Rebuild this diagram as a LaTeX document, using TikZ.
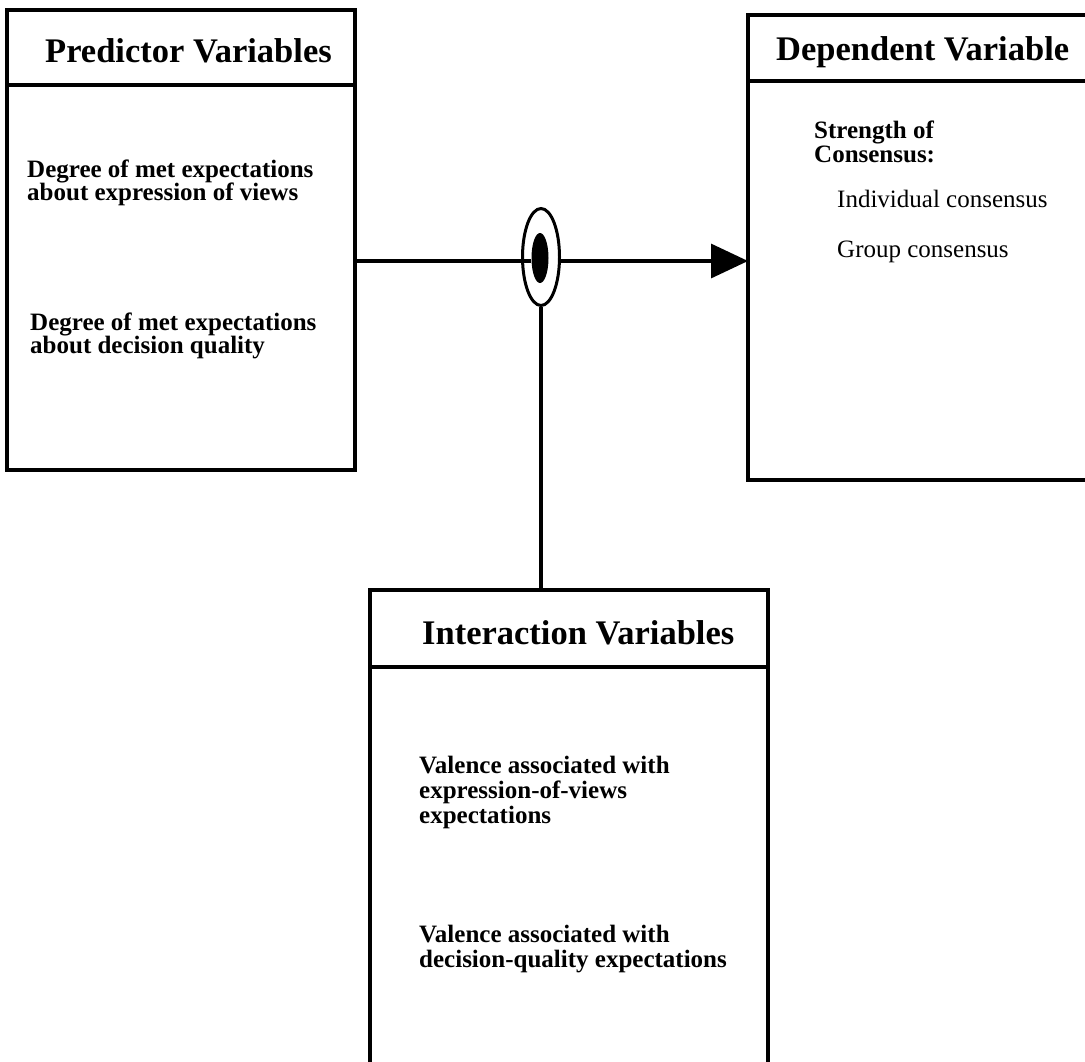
\documentclass[tikz,border=0pt]{standalone}
\usepackage{fontspec}
\setmainfont{Liberation Serif}
\usetikzlibrary{arrows.meta,shapes.geometric}
\begin{document}
\begin{tikzpicture}[x=1pt,y=-1pt,
  frame/.style={line width=3.3pt, line join=miter},
  link/.style={line width=3.3pt},
  boxtitle/.style={anchor=base west, inner sep=0pt, font=\fontsize{34.5}{36}\selectfont\bfseries},
  item/.style={anchor=base west, inner sep=0pt, font=\fontsize{25}{25}\selectfont\bfseries},
  plainitem/.style={anchor=base west, inner sep=0pt, font=\fontsize{25}{25}\selectfont}]
\useasboundingbox (0,0) rectangle (1085,1061);

% ---- Predictor Variables box
\draw[frame] (7,10) rectangle (355,470);
\draw[frame] (7,85) -- (355,85);
\node[boxtitle] (predT) at (45,62) {Predictor Variables};
\node[item] (p1a) at (27,177) {Degree of met expectations};
\node[item] (p1b) at (27,200) {about expression of views};
\node[item] (p2a) at (30,330) {Degree of met expectations};
\node[item] (p2b) at (30,353) {about decision quality};

% ---- Dependent Variable box (open on the right)
\draw[frame] (1086,15) -- (748,15) -- (748,480) -- (1086,480);
\draw[frame] (748,81) -- (1086,81);
\node[boxtitle] (depT) at (776,60) {Dependent Variable};
\node[item] (d1) at (814,138) {Strength of};
\node[item] (d2) at (814,162) {Consensus:};
\node[plainitem] (d3) at (837,207) {Individual consensus};
\node[plainitem] (d4) at (837,257) {Group consensus};

% ---- Interaction Variables box (open at the bottom)
\draw[frame] (370,1062) -- (370,590) -- (768,590) -- (768,1062);
\draw[frame] (370,667) -- (768,667);
\node[boxtitle] (intT) at (422,644) {Interaction Variables};
\node[item] (i1a) at (419,773) {Valence associated with};
\node[item] (i1b) at (419,798) {expression-of-views};
\node[item] (i1c) at (419,823) {expectations};
\node[item] (i2a) at (419,942) {Valence associated with};
\node[item] (i2b) at (419,967) {decision-quality expectations};

% ---- connection points on the boxes
\coordinate (pred-out) at (355,261);
\coordinate (dep-in) at (748,261);
\coordinate (int-top) at (541,590);

% ---- moderator symbol
\node[ellipse, draw, line width=3pt, minimum width=37pt, minimum height=97pt, inner sep=0pt] (mod) at (541,257) {};
\node[ellipse, fill=black, minimum width=17pt, minimum height=50pt, inner sep=0pt] (core) at (540,258) {};

% ---- connectors
\draw[link] (pred-out) -- (pred-out -| core.west);
\draw[link, -{Triangle[length=37pt,width=34pt]}] (mod.east |- dep-in) -- (dep-in);
\draw[link] (mod.south) -- (int-top);
\end{tikzpicture}
\end{document}
